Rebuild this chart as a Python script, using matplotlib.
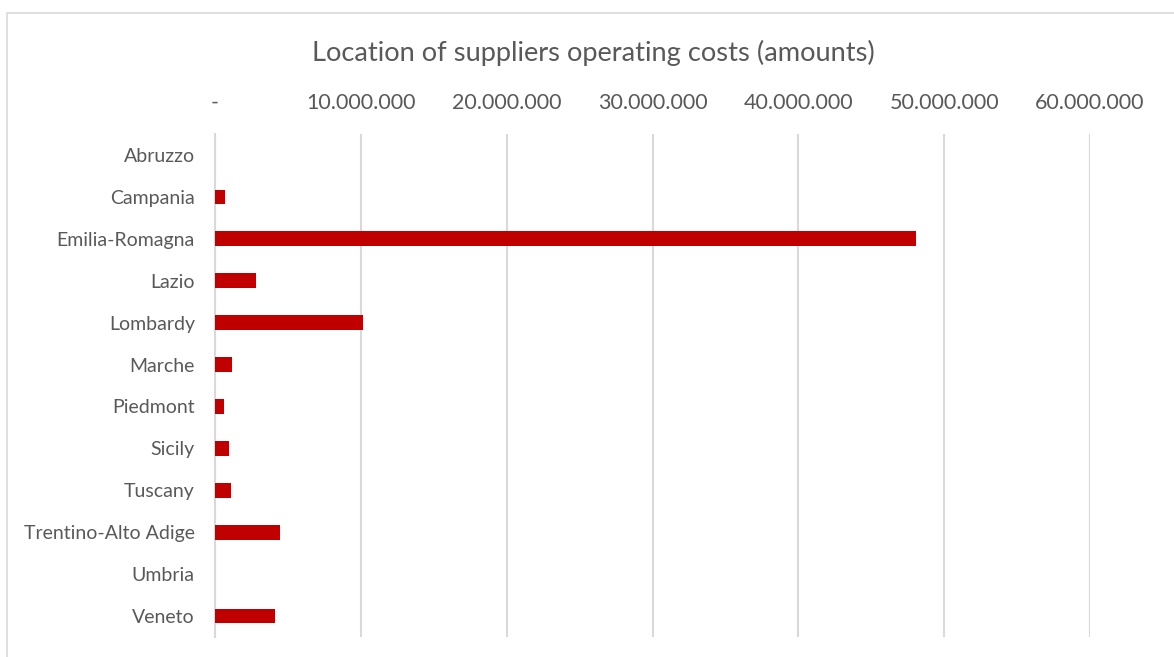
import matplotlib
matplotlib.use("Agg")
import matplotlib.pyplot as plt
from matplotlib.ticker import FuncFormatter
from matplotlib.patches import Rectangle

# data
regions = ["Abruzzo", "Campania", "Emilia-Romagna", "Lazio", "Lombardy", "Marche",
           "Piedmont", "Sicily", "Tuscany", "Trentino-Alto Adige", "Umbria", "Veneto"]
costs = [0, 670000, 48100000, 2790000, 10160000, 1190000,
         640000, 940000, 1080000, 4470000, 0, 4130000]
ticks = [0, 10000000, 20000000, 30000000, 40000000, 50000000, 60000000]

plt.rcParams['font.family'] = ['Lato', 'DejaVu Sans']
text_col = "#595959"
grid_col = "#d9d9d9"

fig = plt.figure(figsize=(11.74, 6.57), dpi=100)
ax = fig.add_axes([215 / 1174, 1 - 637 / 657, 875 / 1174, (637 - 134) / 657])

# outer chart border like the spreadsheet frame
fig.patches.append(Rectangle((7 / 1174, -0.01), 1.0, 1 - 13 / 657 + 0.01,
                             transform=fig.transFigure, fill=False,
                             edgecolor=grid_col, linewidth=1.2))

ypos = list(range(len(regions)))
ax.barh(ypos, costs, height=0.35, color="#C00000", zorder=3)
ax.set_ylim(len(regions) - 0.5, -0.5)
ax.set_yticks(ypos)
ax.set_yticklabels(regions)
ax.set_xlim(0, 60000000)
ax.set_xticks(ticks)


def fmt(v, pos):
    if v == 0:
        return "-"
    return "{:,.0f}".format(v).replace(",", ".")


ax.xaxis.set_major_formatter(FuncFormatter(fmt))
ax.xaxis.tick_top()
ax.tick_params(axis="x", length=0, pad=15, labelsize=15.5, labelcolor=text_col)
ax.tick_params(axis="y", length=0, pad=14.5, labelsize=14, labelcolor=text_col)

ax.grid(axis="x", color=grid_col, linewidth=1.5, zorder=0)
for s in ["top", "right", "bottom"]:
    ax.spines[s].set_visible(False)
ax.spines["left"].set_color(grid_col)
ax.spines["left"].set_linewidth(1.5)

fig.text(593 / 1174, 1 - 53 / 657, "Location of suppliers operating costs (amounts)",
         ha="center", va="center", fontsize=19.6, color=text_col)

fig.savefig("out.png", dpi=100)
